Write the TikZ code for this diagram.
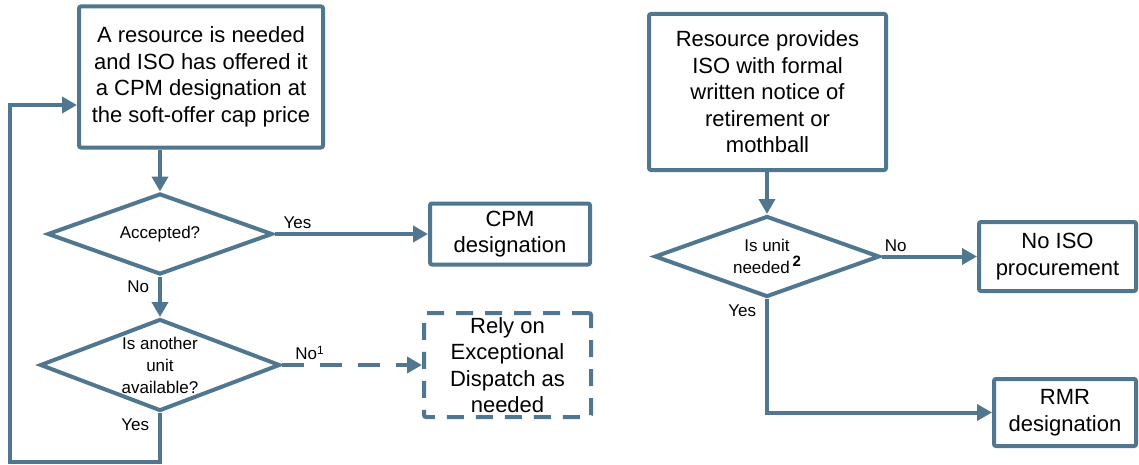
\documentclass[tikz,border=0pt]{standalone}
\usepackage{fontspec}
\setmainfont{Liberation Sans}
\usetikzlibrary{arrows.meta, shapes.geometric, positioning, calc}
\definecolor{slate}{RGB}{80,119,143}
\tikzset{
  procbox/.style={
    rectangle, draw=slate, line width=2pt, rounded corners=1pt, inner sep=0pt,
    align=center, font=\fontsize{11}{13.25}\selectfont
  },
  dashbox/.style={procbox, dash pattern=on 8.5pt off 6pt},
  decision/.style={diamond, draw=slate, line width=2pt, inner sep=0pt},
  qtext/.style={align=center, font=\fontsize{8.5}{11}\selectfont},
  edge/.style={-{Triangle[length=7.5pt,width=8pt]}, draw=slate, line width=2pt},
  dashedge/.style={edge, dash pattern=on 11pt off 8pt},
  oplabel/.style={font=\fontsize{8.5}{10}\selectfont, inner sep=1.5pt}
}

\begin{document}
\begin{tikzpicture}[x=0.5pt, y=-0.5pt]
    \useasboundingbox (0,0) rectangle (1139,465);
    \node[procbox, minimum width=122pt, minimum height=70.5pt] (sRes) at (201,77) {A resource is needed\\and ISO has offered it\\a CPM designation at\\the soft-offer cap price};
    \node[decision, minimum width=112.5pt, minimum height=40.5pt, label={[qtext]center:Accepted?}] (sAcc) at (160,234) {};
    \node[procbox, minimum width=80pt, minimum height=30.5pt] (sCpm) at (510,234) {CPM\\designation};
    \node[decision, minimum width=120pt, minimum height=46pt, label={[qtext]center:{Is another\\unit\\available?}}] (sAvail) at (160,365) {};
    \node[dashbox, minimum width=83.5pt, minimum height=52pt] (sRely) at (507.5,365) {Rely on\\Exceptional\\Dispatch as\\needed};
    \coordinate (loopBot) at (10,462);
    \coordinate (loopTop) at (10,105);
    \draw[edge] (sRes.south -| sAcc.north) -- (sAcc.north);
    \draw[edge] (sAcc.east) -- node[oplabel, above, pos=0.15] {Yes} (sCpm.west);
    \draw[edge] (sAcc.south) -- node[oplabel, left=3pt, pos=0.25] {No} (sAvail.north);
    \draw[dashedge] (sAvail.east) -- node[oplabel, above, pos=0.2] {No\textsuperscript{1}} (sRely.west);
    \draw[edge] (sAvail.south) |- node[oplabel, left=3pt, pos=0.12] {Yes} (loopBot) -- (loopTop) -- (loopTop -| sRes.west);

    \node[procbox, minimum width=118.5pt, minimum height=78pt] (sNotice) at (767.5,92) {Resource provides\\ISO with formal\\written notice of\\retirement or\\mothball};
    \node[decision, minimum width=112.5pt, minimum height=40.5pt, label={[qtext]center:{Is unit\\needed\,\raisebox{3.5pt}{\fontsize{7.5}{8}\selectfont\bfseries 2}}}] (sNeed) at (767,256.5) {};
    \node[procbox, minimum width=78.5pt, minimum height=34.5pt] (sNoIso) at (1057.5,256.5) {No ISO\\procurement};
    \node[procbox, minimum width=71pt, minimum height=33.5pt] (sRmr) at (1065,412.5) {RMR\\designation};
    \draw[edge] (sNotice.south -| sNeed.north) -- (sNeed.north);
    \draw[edge] (sNeed.east) -- node[oplabel, above, pos=0.15] {No} (sNoIso.west);
    \draw[edge] (sNeed.south) |- node[oplabel, left=3pt, pos=0.05] {Yes} (sRmr.west);
    \end{tikzpicture}
\end{document}
